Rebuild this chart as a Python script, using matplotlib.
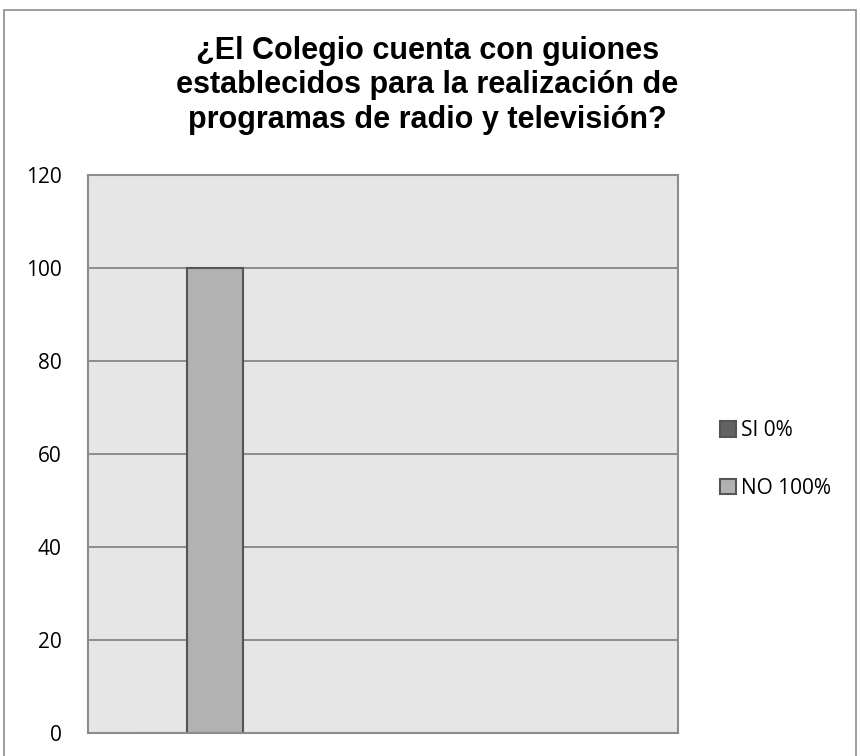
import matplotlib
matplotlib.use("Agg")
import matplotlib.pyplot as plt
from matplotlib.patches import Rectangle

series = ["SI 0%", "NO 100%"]
values = [0, 100]
colors = ["#636363", "#b2b2b2"]
yticks = [0, 20, 40, 60, 80, 100, 120]
title = "¿El Colegio cuenta con guiones\nestablecidos para la realización de\nprogramas de radio y televisión?"

fig = plt.figure(figsize=(8.6, 7.56), dpi=100)
fig.patches.append(Rectangle((0.005, -0.01), 0.99, 0.997, transform=fig.transFigure,
                             fill=False, edgecolor="#8c8c8c", linewidth=1.2))

ax = fig.add_axes([0.1023, 0.0304, 0.6861, 0.7381])
ax.set_facecolor("#e6e6e6")

w = 0.35
for i, (name, v) in enumerate(zip(series, values)):
    ax.bar((i - 1) * w, v, w, align="edge", color=colors[i],
           edgecolor="#555555", linewidth=1.5, label=name, zorder=2)

ax.set_xlim(-0.619, 3.069)
ax.set_ylim(0, 120)
ax.set_yticks(yticks)
ax.set_yticklabels([str(t) for t in yticks], fontsize=15, family="Open Sans")
ax.tick_params(axis="y", length=0, pad=19)
ax.set_xticks([])
ax.yaxis.grid(True, color="#868686", linewidth=1.3, zorder=0)
for s in ax.spines.values():
    s.set_color("#8c8c8c")
    s.set_linewidth(1.5)
    s.set_zorder(3)

fig.text(0.497, 0.887, title, ha="center", va="center", fontsize=22,
         fontweight="bold", family="Liberation Sans", linespacing=1.2)

leg = ax.legend(loc="center left", bbox_to_anchor=(1.04, 0.49), frameon=False,
                prop={"family": "Open Sans", "size": 15}, handlelength=0.75,
                handleheight=0.75, handletextpad=0.25, labelspacing=1.75)

fig.savefig("out.png", dpi=100)
